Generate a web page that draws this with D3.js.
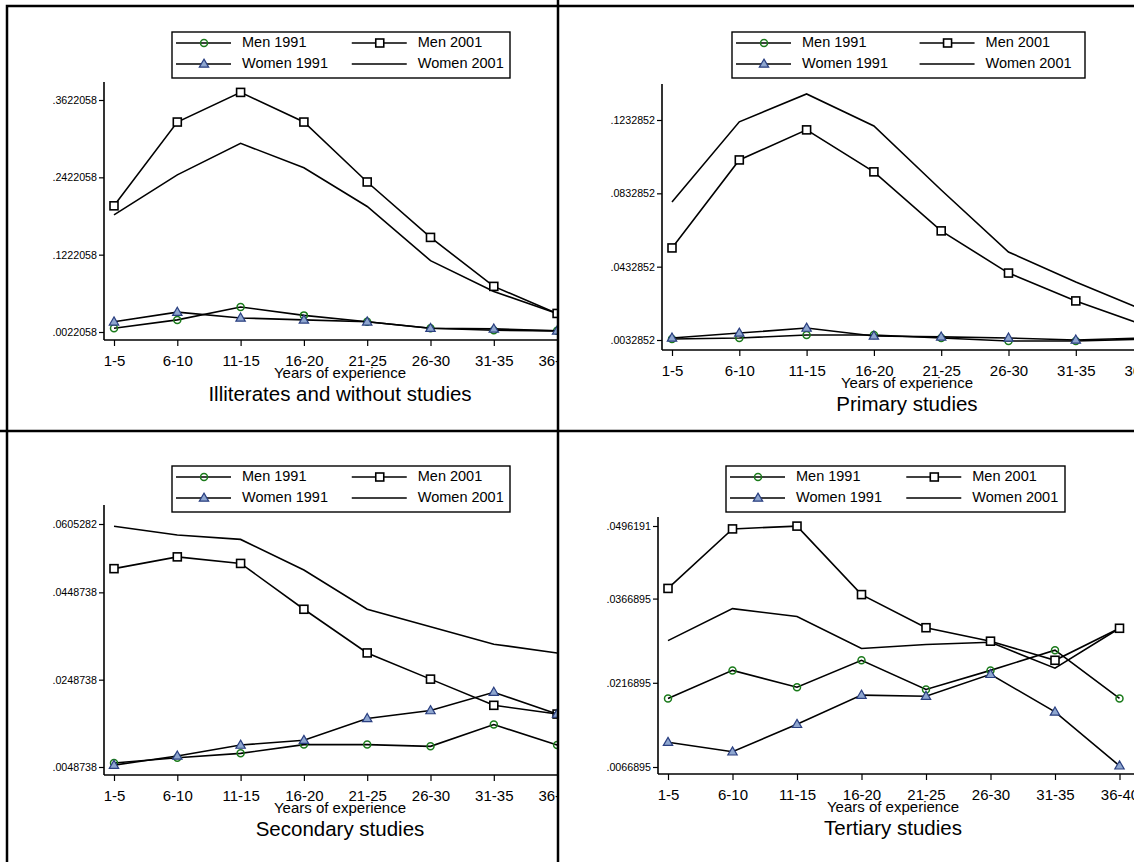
<!DOCTYPE html>
<html><head><meta charset="utf-8">
<script src="https://cdn.jsdelivr.net/npm/d3@7"></script>
<style>body{margin:0;background:#fff}svg{font-family:"Liberation Sans",Arial,sans-serif}</style>
</head><body><div id="chart"></div>
<script>
'use strict';
const categories = ["1-5","6-10","11-15","16-20","21-25","26-30","31-35","36-40"];
const seriesNames = ["Men 1991","Men 2001","Women 1991","Women 2001"];

const titles = ["Illiterates and without studies","Primary studies","Secondary studies","Tertiary studies"];
const yTicks = [
  [.0022058,.1222058,.2422058,.3622058],
  [.0032852,.0432852,.0832852,.1232852],
  [.0048738,.0248738,.0448738,.0605282],
  [.0066895,.0216895,.0366895,.0496191]
];
const yTickLabels = [
  [".0022058",".1222058",".2422058",".3622058"],
  [".0032852",".0432852",".0832852",".1232852"],
  [".0048738",".0248738",".0448738",".0605282"],
  [".0066895",".0216895",".0366895",".0496191"]
];

const men1991 = [
  [.008,.021,.041,.028,.018,.008,.005,.004],
  [.0038,.0044,.006,.006,.0044,.0027,.0027,.0038],
  [.0058,.007,.008,.010,.010,.0096,.0146,.0099],
  [.0189,.0239,.0209,.0257,.0205,.0239,.0275,.0189]
];
const men2001 = [
  [.198,.328,.374,.328,.235,.149,.073,.031],
  [.0535,.1015,.1179,.095,.0628,.0398,.0246,.0115],
  [.0503,.053,.0515,.041,.031,.025,.019,.017],
  [.0385,.0491,.0496,.0374,.0315,.0291,.0257,.0314]
];
const women1991 = [
  [.018,.033,.024,.021,.018,.008,.007,.004],
  [.0044,.0071,.0098,.0055,.005,.0044,.0033,.0044],
  [.0053,.0074,.0099,.011,.016,.0178,.022,.017],
  [.0111,.0094,.0143,.0195,.0193,.0232,.0165,.0069]
];
const women2001 = [
  [.184,.246,.295,.257,.197,.113,.065,.031],
  [.0786,.1223,.1375,.120,.0851,.0513,.0349,.0197],
  [.060,.058,.057,.050,.041,.037,.033,.031],
  [.0292,.0349,.0335,.0278,.0285,.0289,.0243,.0314]
];

const W = 1134, H = 862;
const svg = d3.select("#chart").append("svg").attr("width", W).attr("height", H);

// panel layout: clip box, axis origin and pixel extents
const panels = [
  {cx:7, cy:6, cw:551, ch:425, axX:104, x0:114, step:63.3, yTop:82, yBot:340, yPix:[332,100], leg:[172,32,338], mid:340},
  {cx:558, cy:6, cw:576, ch:425, axX:662, x0:672, step:67.3, yTop:84, yBot:350, yPix:[340,120], leg:[732,32,353], mid:907},
  {cx:7, cy:431, cw:551, ch:431, axX:104, x0:114, step:63.3, yTop:505, yBot:775, yPix:[767,524], leg:[172,466,338], mid:340},
  {cx:558, cy:431, cw:576, ch:431, axX:658, x0:668, step:64.5, yTop:517, yBot:774, yPix:[767,526], leg:[726,466,339], mid:893}
];

const styles = [
  {name:seriesNames[0], data:men1991, marker:"circle"},
  {name:seriesNames[1], data:men2001, marker:"square"},
  {name:seriesNames[2], data:women1991, marker:"triangle"},
  {name:seriesNames[3], data:women2001, marker:null}
];

function drawMarker(g, type, x, y) {
  if (type === "circle") {
    g.append("circle").attr("cx", x).attr("cy", y).attr("r", 3.5)
      .attr("fill", "none").attr("stroke", "#1a7a1a").attr("stroke-width", 1.5);
  } else if (type === "square") {
    g.append("rect").attr("x", x - 4).attr("y", y - 4).attr("width", 8).attr("height", 8)
      .attr("fill", "#fff").attr("stroke", "#000").attr("stroke-width", 1.6);
  } else if (type === "triangle") {
    g.append("path").attr("d", d3.symbol(d3.symbolTriangle, 38)()).attr("transform", `translate(${x},${y + 0.5})`)
      .attr("fill", "#8ea6cf").attr("stroke", "#2a3f80").attr("stroke-width", 1.2);
  }
}

panels.forEach(function (p, k) {
  const clipId = "clip" + k;
  svg.append("clipPath").attr("id", clipId).append("rect")
    .attr("x", p.cx).attr("y", p.cy).attr("width", p.cw).attr("height", p.ch);
  const g = svg.append("g").attr("clip-path", `url(#${clipId})`);

  const x = d3.scalePoint().domain(categories)
    .range([p.x0, p.x0 + p.step * (categories.length - 1)]);
  const y = d3.scaleLinear().domain([yTicks[k][0], yTicks[k][3]]).range(p.yPix);

  // axes
  const yAxis = d3.axisLeft(y).tickValues(yTicks[k]).tickSize(5).tickPadding(2)
    .tickFormat((d, i) => yTickLabels[k][i]);
  const ya = g.append("g").attr("transform", `translate(${p.axX},0)`).call(yAxis);
  ya.select(".domain").attr("d", `M0,${p.yTop}V${p.yBot}`);
  ya.selectAll("text").attr("font-size", 10.7).attr("fill", "#000");

  const xAxis = d3.axisBottom(x).tickSize(6).tickPadding(9);
  const xa = g.append("g").attr("transform", `translate(0,${p.yBot})`).call(xAxis);
  xa.select(".domain").attr("d", `M${p.axX},0H${p.cx + p.cw + 80}`);
  xa.selectAll("text").attr("font-size", 15).attr("fill", "#000");
  g.selectAll(".domain").attr("stroke-width", 1.6);
  g.selectAll(".tick line").attr("stroke-width", 1.2);

  g.append("text").attr("x", p.mid).attr("y", p.yBot + 38)
    .attr("text-anchor", "middle").attr("font-size", 15).text("Years of experience");
  g.append("text").attr("x", p.mid).attr("y", p.yBot + 61)
    .attr("text-anchor", "middle").attr("font-size", 20.5).text(titles[k]);

  // series
  const line = d3.line().x((d, i) => x(categories[i])).y(d => y(d));
  [3, 1, 0, 2].forEach(function (si) {
    const s = styles[si];
    g.append("path").datum(s.data[k]).attr("d", line)
      .attr("fill", "none").attr("stroke", "#000").attr("stroke-width", 1.6);
    if (s.marker) s.data[k].forEach((v, i) => drawMarker(g, s.marker, x(categories[i]), y(v)));
  });

  // legend
  const lg = g.append("g").attr("transform", `translate(${p.leg[0]},${p.leg[1]})`);
  lg.append("rect").attr("width", p.leg[2]).attr("height", 46).attr("fill", "#fff")
    .attr("stroke", "#000").attr("stroke-width", 1.4);
  const colW = p.leg[2] * 0.52;
  styles.forEach(function (s, i) {
    const col = i % 2, row = Math.floor(i / 2);
    const lx = 4 + col * colW, ly = 11 + row * 21;
    lg.append("line").attr("x1", lx).attr("x2", lx + 55).attr("y1", ly).attr("y2", ly)
      .attr("stroke", "#000").attr("stroke-width", 1.6);
    drawMarker(lg, s.marker, lx + 28, ly);
    lg.append("text").attr("x", lx + 66).attr("y", ly + 4).attr("font-size", 14.5)
      .text(s.name);
  });
});

// frames
svg.append("rect").attr("x", 7).attr("y", 6).attr("width", 1140).attr("height", 870)
  .attr("fill", "none").attr("stroke", "#000").attr("stroke-width", 2.5);
svg.append("line").attr("x1", 558).attr("x2", 558).attr("y1", 0).attr("y2", H)
  .attr("stroke", "#000").attr("stroke-width", 2.5);
svg.append("line").attr("x1", 0).attr("x2", W).attr("y1", 431).attr("y2", 431)
  .attr("stroke", "#000").attr("stroke-width", 2.5);
</script></body></html>
